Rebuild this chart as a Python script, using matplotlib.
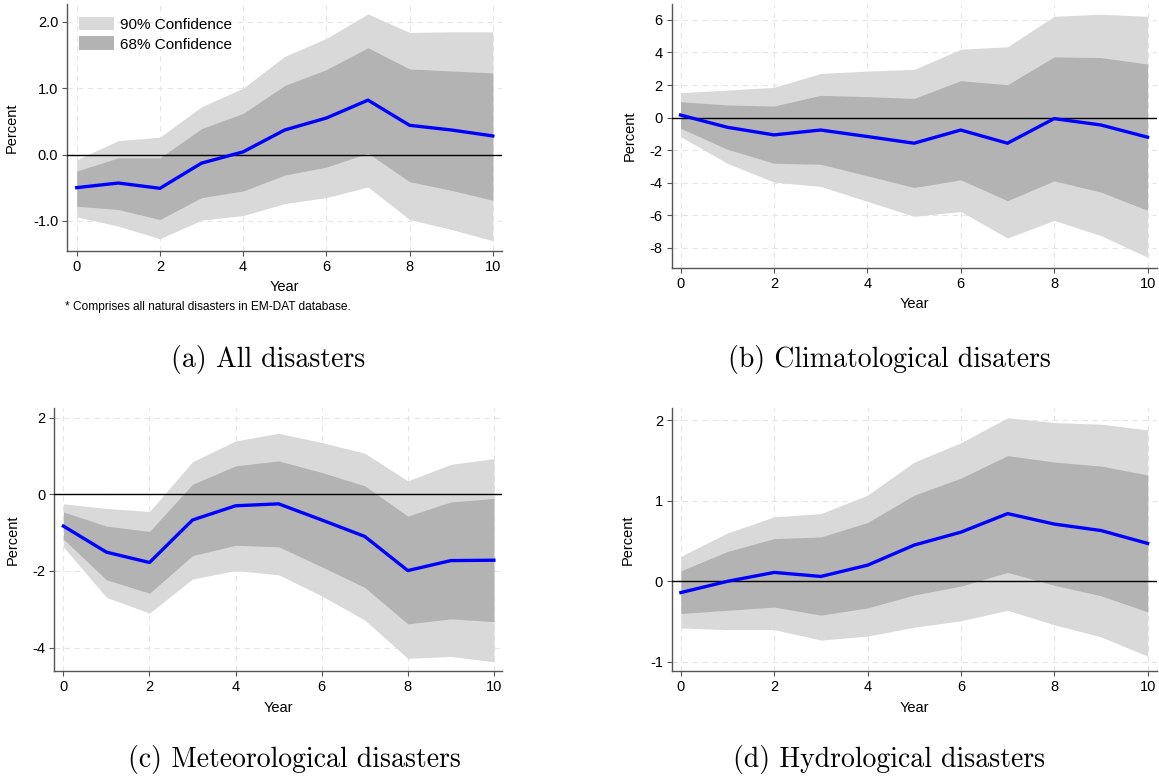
import matplotlib
matplotlib.use("Agg")
import matplotlib.pyplot as plt
from matplotlib.patches import Patch

plt.rcParams['font.family'] = ['Liberation Sans', 'DejaVu Sans']
plt.rcParams['axes.unicode_minus'] = False

years = list(range(11))
xticks = [0, 2, 4, 6, 8, 10]

# (a) all disasters
all_irf = [-0.50, -0.43, -0.51, -0.13, 0.04, 0.37, 0.55, 0.82, 0.44, 0.37, 0.28]
all_hi90 = [-0.08, 0.21, 0.26, 0.72, 1.00, 1.48, 1.75, 2.12, 1.84, 1.85, 1.85]
all_hi68 = [-0.25, -0.05, -0.05, 0.39, 0.62, 1.04, 1.28, 1.61, 1.29, 1.26, 1.23]
all_lo68 = [-0.78, -0.83, -0.98, -0.65, -0.55, -0.31, -0.19, 0.02, -0.41, -0.54, -0.69]
all_lo90 = [-0.94, -1.08, -1.27, -0.99, -0.92, -0.74, -0.65, -0.49, -0.98, -1.13, -1.30]
all_yticks = [-1.0, 0.0, 1.0, 2.0]
all_ylabels = ["-1.0", "0.0", "1.0", "2.0"]

# (b) climatological
clim_irf = [0.16, -0.59, -1.06, -0.76, -1.16, -1.57, -0.76, -1.57, -0.06, -0.45, -1.20]
clim_hi90 = [1.53, 1.69, 1.86, 2.71, 2.86, 2.96, 4.20, 4.35, 6.22, 6.35, 6.22]
clim_hi68 = [0.98, 0.78, 0.71, 1.37, 1.29, 1.18, 2.27, 2.02, 3.73, 3.69, 3.29]
clim_lo68 = [-0.65, -1.94, -2.80, -2.86, -3.57, -4.29, -3.82, -5.10, -3.88, -4.57, -5.69]
clim_lo90 = [-1.16, -2.80, -3.96, -4.22, -5.14, -6.06, -5.76, -7.39, -6.31, -7.24, -8.57]
clim_yticks = [-8, -6, -4, -2, 0, 2, 4, 6]
clim_ylabels = ["-8", "-6", "-4", "-2", "0", "2", "4", "6"]

# (c) meteorological
met_irf = [-0.83, -1.51, -1.78, -0.67, -0.30, -0.25, -0.67, -1.10, -1.99, -1.73, -1.72]
met_hi90 = [-0.25, -0.37, -0.45, 0.85, 1.39, 1.59, 1.35, 1.07, 0.35, 0.78, 0.93]
met_hi68 = [-0.46, -0.83, -0.97, 0.26, 0.74, 0.87, 0.57, 0.22, -0.57, -0.20, -0.11]
met_lo68 = [-1.17, -2.23, -2.58, -1.60, -1.33, -1.37, -1.89, -2.43, -3.38, -3.25, -3.32]
met_lo90 = [-1.37, -2.69, -3.10, -2.21, -1.99, -2.10, -2.65, -3.28, -4.28, -4.23, -4.37]
met_yticks = [-4, -2, 0, 2]
met_ylabels = ["-4", "-2", "0", "2"]

# (d) hydrological
hyd_irf = [-0.14, 0.00, 0.11, 0.06, 0.20, 0.45, 0.61, 0.84, 0.71, 0.63, 0.47]
hyd_hi90 = [0.31, 0.60, 0.80, 0.84, 1.07, 1.48, 1.72, 2.03, 1.97, 1.95, 1.88]
hyd_hi68 = [0.13, 0.37, 0.53, 0.55, 0.73, 1.07, 1.28, 1.56, 1.48, 1.43, 1.32]
hyd_lo68 = [-0.40, -0.36, -0.32, -0.42, -0.33, -0.17, -0.06, 0.11, -0.05, -0.18, -0.38]
hyd_lo90 = [-0.58, -0.60, -0.60, -0.73, -0.68, -0.57, -0.49, -0.36, -0.54, -0.69, -0.93]
hyd_yticks = [-1, 0, 1, 2]
hyd_ylabels = ["-1", "0", "1", "2"]

LIGHT = "#d9d9d9"
DARK = "#b3b3b3"
SPINE = "#555555"


def draw_panel(ax, irf, lo90, hi90, lo68, hi68, yticks, ylabels, xlim, ylim,
               ylab_x, xlab_y):
    ax.fill_between(years, lo90, hi90, color=LIGHT, lw=0, zorder=1)
    ax.fill_between(years, lo68, hi68, color=DARK, lw=0, zorder=2)
    ax.axhline(0, color="black", lw=1.0, zorder=3)
    ax.plot(years, irf, color="#0000ff", lw=2.4, zorder=4)
    ax.set_xlim(*xlim)
    ax.set_ylim(*ylim)
    ax.set_xticks(xticks)
    ax.set_xticklabels([str(t) for t in xticks])
    ax.set_yticks(yticks)
    ax.set_yticklabels(ylabels)
    ax.grid(True, color="#e6e6e6", lw=0.8, ls=(0, (5, 4)), zorder=0)
    ax.set_axisbelow(True)
    for s in ["top", "right"]:
        ax.spines[s].set_visible(False)
    for s in ["left", "bottom"]:
        ax.spines[s].set_color(SPINE)
        ax.spines[s].set_linewidth(1.0)
    ax.tick_params(labelsize=10.5, length=3.5, width=0.8, color=SPINE, pad=3)
    ax.text(ylab_x, 0.5, "Percent", rotation=90, ha="center", va="center",
            fontsize=10.5, transform=ax.transAxes)
    ax.text(0.5, xlab_y, "Year", ha="center", va="center",
            fontsize=10.5, transform=ax.transAxes)


fig = plt.figure(figsize=(11.59, 7.77), dpi=100)

ax_a = fig.add_axes([0.0581, 0.6774, 0.375, 0.3175])
ax_b = fig.add_axes([0.5795, 0.6547, 0.4187, 0.3402])
ax_c = fig.add_axes([0.0469, 0.1364, 0.3863, 0.3385])
ax_d = fig.add_axes([0.5798, 0.1368, 0.4185, 0.3380])

draw_panel(ax_a, all_irf, all_lo90, all_hi90, all_lo68, all_hi68,
           all_yticks, all_ylabels, (-0.225, 10.22), (-1.45, 2.27), -0.127, -0.147)
draw_panel(ax_b, clim_irf, clim_lo90, clim_hi90, clim_lo68, clim_hi68,
           clim_yticks, clim_ylabels, (-0.19, 10.2), (-9.25, 6.98), -0.086, -0.135)
draw_panel(ax_c, met_irf, met_lo90, met_hi90, met_lo68, met_hi68,
           met_yticks, met_ylabels, (-0.21, 10.19), (-4.61, 2.25), -0.092, -0.141)
draw_panel(ax_d, hyd_irf, hyd_lo90, hyd_hi90, hyd_lo68, hyd_hi68,
           hyd_yticks, hyd_ylabels, (-0.19, 10.2), (-1.11, 2.15), -0.091, -0.141)

handles = [Patch(facecolor=LIGHT, edgecolor="none", label="90% Confidence"),
           Patch(facecolor=DARK, edgecolor="none", label="68% Confidence")]
ax_a.legend(handles=handles, loc="upper left", bbox_to_anchor=(0.027, 0.948),
            frameon=False, fontsize=11, handlelength=2.3, handleheight=1.0,
            handletextpad=0.4, labelspacing=0.3, borderpad=0, borderaxespad=0)

fig.text(0.0561, 0.605, "* Comprises all natural disasters in EM-DAT database.",
         fontsize=8.6, ha="left", va="center")

cap = dict(family="cmr10", fontsize=20, ha="center", va="center")
fig.text(0.231, 0.5367, "(a) All disasters", **cap)
fig.text(0.767, 0.5367, "(b) Climatological disaters", **cap)
fig.text(0.2537, 0.0219, "(c) Meteorological disasters", **cap)
fig.text(0.767, 0.0219, "(d) Hydrological disasters", **cap)

fig.savefig("out.png", dpi=100)
